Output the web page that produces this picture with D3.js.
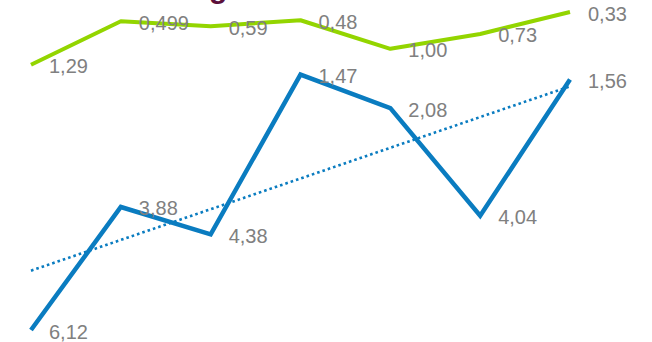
<!DOCTYPE html>
<html>
<head>
<meta charset="utf-8">
<script src="https://cdn.jsdelivr.net/npm/d3@7"></script>
<style>
  html, body { margin: 0; padding: 0; background: #fff; }
  svg { display: block; }
  text { font-family: "Liberation Sans", Arial, sans-serif; }
</style>
</head>
<body>
<svg id="chart" width="652" height="342"></svg>
<script>
// Periods along the x axis
const periods = [0, 1, 2, 3, 4, 5, 6];
// Upper series (green) and lower series (blue)
const greenValues = [1.29, 0.499, 0.59, 0.48, 1.00, 0.73, 0.33];
const blueValues = [6.12, 3.88, 4.38, 1.47, 2.08, 4.04, 1.56];
// Printed labels, comma decimal
const greenLabels = ["1,29", "0,499", "0,59", "0,48", "1,00", "0,73", "0,33"];
const blueLabels = ["6,12", "3,88", "4,38", "1,47", "2,08", "4,04", "1,56"];

const svg = d3.select("#chart");

const x = d3.scalePoint().domain(periods).range([31, 570]);
// Shared value axis, smaller values sit higher
const y = d3.scaleLinear().domain([0.33, 6.12]).range([12, 330]);

// Title descender peeking in at the top edge
svg.append("text")
  .attr("x", 209).attr("y", -2)
  .attr("font-size", 30)
  .attr("font-weight", "bold")
  .attr("fill", "#5c0f3b")
  .text("g");

// Least-squares trend of the blue series
const n = periods.length;
const mx = d3.mean(periods), my = d3.mean(blueValues);
const slope = d3.sum(periods, (p, i) => (p - mx) * (blueValues[i] - my)) /
              d3.sum(periods, p => (p - mx) * (p - mx));
const trend = p => my + slope * (p - mx);

const line = d3.line().x(d => x(d[0])).y(d => y(d[1]));

svg.append("path")
  .datum([[periods[0], trend(periods[0])], [periods[n - 1], trend(periods[n - 1])]])
  .attr("d", line)
  .attr("fill", "none")
  .attr("stroke", "#0a7cc0")
  .attr("stroke-width", 2.6)
  .attr("stroke-dasharray", "2.6 3");

svg.append("path")
  .datum(periods.map((p, i) => [p, greenValues[i]]))
  .attr("d", line)
  .attr("fill", "none")
  .attr("stroke", "#93d500")
  .attr("stroke-width", 4)
  .attr("stroke-linejoin", "round");

svg.append("path")
  .datum(periods.map((p, i) => [p, blueValues[i]]))
  .attr("d", line)
  .attr("fill", "none")
  .attr("stroke", "#0a7cc0")
  .attr("stroke-width", 4.5)
  .attr("stroke-linejoin", "miter");

function addLabels(values, labels) {
  svg.append("g").selectAll("text")
    .data(values)
    .join("text")
    .attr("x", (d, i) => x(periods[i]) + 18)
    .attr("y", d => y(d) + 8.5)
    .attr("font-size", 20)
    .attr("fill", "#808080")
    .text((d, i) => labels[i]);
}
addLabels(greenValues, greenLabels);
addLabels(blueValues, blueLabels);
</script>
</body>
</html>
